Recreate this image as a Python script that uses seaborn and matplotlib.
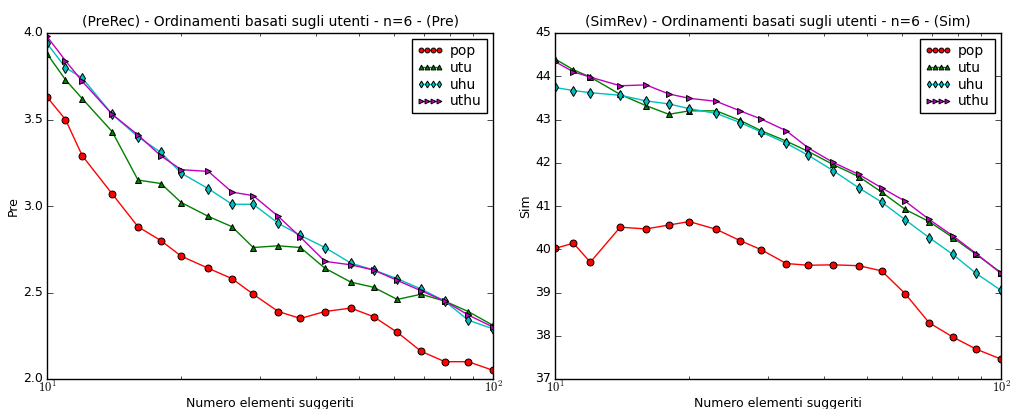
import matplotlib
matplotlib.use("Agg")
import matplotlib.pyplot as plt
import seaborn as sns
import numpy as np

sns.set_style("ticks", {"xtick.direction": "in", "ytick.direction": "in"})
plt.style.use("classic")
plt.rcParams["font.family"] = ["DejaVu Sans"]

x = [10, 11, 12, 14, 16, 18, 20, 23, 26, 29, 33, 37, 42, 48, 54, 61, 69, 78, 88, 100]

pre_pop = [3.63, 3.50, 3.29, 3.07, 2.88, 2.80, 2.71, 2.64, 2.58, 2.49, 2.39, 2.35, 2.39, 2.41, 2.36, 2.27, 2.16, 2.10, 2.10, 2.05]
pre_utu = [3.88, 3.73, 3.62, 3.43, 3.15, 3.13, 3.02, 2.94, 2.88, 2.76, 2.77, 2.76, 2.64, 2.56, 2.53, 2.46, 2.49, 2.45, 2.39, 2.31]
pre_uhu = [3.94, 3.80, 3.74, 3.53, 3.40, 3.31, 3.19, 3.10, 3.01, 3.01, 2.90, 2.83, 2.76, 2.67, 2.63, 2.58, 2.52, 2.45, 2.34, 2.29]
pre_uthu = [3.98, 3.84, 3.72, 3.53, 3.41, 3.29, 3.21, 3.20, 3.08, 3.06, 2.94, 2.82, 2.68, 2.66, 2.63, 2.57, 2.51, 2.45, 2.37, 2.30]

sim_pop = [40.02, 40.14, 39.70, 40.51, 40.47, 40.56, 40.64, 40.46, 40.20, 39.99, 39.67, 39.63, 39.64, 39.62, 39.50, 38.97, 38.30, 37.97, 37.69, 37.46]
sim_utu = [44.40, 44.15, 43.98, 43.58, 43.32, 43.12, 43.20, 43.20, 42.98, 42.74, 42.50, 42.26, 41.96, 41.68, 41.32, 40.92, 40.64, 40.27, 39.88, 39.46]
sim_uhu = [43.74, 43.67, 43.62, 43.56, 43.43, 43.36, 43.25, 43.14, 42.93, 42.71, 42.45, 42.17, 41.82, 41.42, 41.09, 40.68, 40.27, 39.88, 39.44, 39.05]
sim_uthu = [44.34, 44.10, 43.98, 43.78, 43.80, 43.59, 43.49, 43.42, 43.20, 43.01, 42.74, 42.34, 42.01, 41.73, 41.42, 41.11, 40.69, 40.31, 39.90, 39.44]

series_names = ["pop", "utu", "uhu", "uthu"]
colors = ["#ff0000", "#008000", "#00bfbf", "#bf00bf"]
markers = ["o", "^", "d", ">"]

panels = [
    ("(PreRec) - Ordinamenti basati sugli utenti - n=6 - (Pre)", "Pre",
     [pre_pop, pre_utu, pre_uhu, pre_uthu], (2.0, 4.0), [2.0, 2.5, 3.0, 3.5, 4.0], ["2.0", "2.5", "3.0", "3.5", "4.0"]),
    ("(SimRev) - Ordinamenti basati sugli utenti - n=6 - (Sim)", "Sim",
     [sim_pop, sim_utu, sim_uhu, sim_uthu], (37, 45), list(range(37, 46)), [str(v) for v in range(37, 46)]),
]

fig = plt.figure(figsize=(10.13, 4.09), dpi=100, facecolor="white")
positions = [
    [47 / 1013, 1 - 379 / 409, 446 / 1013, 346 / 409],
    [555 / 1013, 1 - 379 / 409, 446 / 1013, 346 / 409],
]

for pos, (title, ylab, data, ylim, yticks, yticklabels) in zip(positions, panels):
    ax = fig.add_axes(pos)
    for name, vals, c, m in zip(series_names, data, colors, markers):
        sns.lineplot(x=x, y=vals, ax=ax, color=c, marker=m, markersize=5,
                     markerfacecolor=c, markeredgecolor="black", markeredgewidth=0.7,
                     linewidth=1.0, label=name, legend=False)
    ax.set_xscale("log")
    ax.set_xlim(10, 100)
    ax.set_ylim(*ylim)
    ax.set_yticks(yticks)
    ax.set_yticklabels(yticklabels)
    ax.set_xticks([10, 100])
    ax.set_xticklabels([r"$10^{1}$", r"$10^{2}$"])
    ax.tick_params(axis="both", which="both", direction="in", top=True, right=True, labelsize=9)
    ax.tick_params(axis="both", which="major", length=4)
    ax.tick_params(axis="both", which="minor", length=2)
    ax.tick_params(axis="x", which="both", pad=1)
    ax.tick_params(axis="y", which="both", pad=3)
    ax.set_title(title, fontsize=10)
    ax.set_xlabel("Numero elementi suggeriti", fontsize=9, labelpad=1)
    ax.set_ylabel(ylab, fontsize=9, labelpad=2)
    for sp in ax.spines.values():
        sp.set_linewidth(1.0)
        sp.set_color("black")
    handles, labels = ax.get_legend_handles_labels()
    leg = ax.legend(handles, labels, loc="upper right", numpoints=4, fontsize=10,
                    fancybox=False, frameon=True, handlelength=1.9, markerscale=0.7,
                    borderpad=0.35, labelspacing=0.2, handletextpad=0.5,
                    borderaxespad=0.45)
    leg.get_frame().set_edgecolor("black")
    leg.get_frame().set_linewidth(1.0)

fig.savefig("out.png", dpi=100, facecolor="white")
